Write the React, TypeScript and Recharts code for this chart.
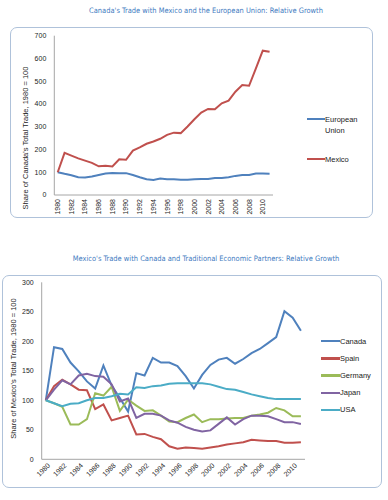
import React from "react"
import { Label, Legend, Line, LineChart, XAxis, YAxis } from "recharts"

const YEARS = [
  "1980", "1981", "1982", "1983", "1984", "1985", "1986", "1987",
  "1988", "1989", "1990", "1991", "1992", "1993", "1994", "1995",
  "1996", "1997", "1998", "1999", "2000", "2001", "2002", "2003",
  "2004", "2005", "2006", "2007", "2008", "2009", "2010", "2011",
]

// Canada's trade share, 1980 = 100
const EU_SHARE = [100, 93, 87, 78, 77, 81, 88, 94, 97, 96, 96, 88, 78, 69, 66, 72, 69, 69, 67, 67, 69, 70, 70, 75, 75, 78, 84, 88, 88, 94, 94, 93]
const MEXICO_SHARE = [100, 185, 173, 161, 151, 141, 126, 129, 125, 157, 155, 195, 209, 225, 235, 247, 264, 274, 272, 301, 333, 362, 378, 377, 403, 415, 454, 483, 480, 556, 634, 629]
const CANADA_TICKS = [0, 100, 200, 300, 400, 500, 600, 700]
const CANADA_SERIES = ["European Union", "Mexico"]

// Mexico's trade share, 1980 = 100
const CANADA_SHARE = [100, 190, 187, 164, 149, 132, 120, 159, 125, 104, 81, 146, 142, 172, 164, 164, 158, 141, 120, 143, 160, 169, 172, 162, 170, 180, 187, 197, 207, 251, 240, 218]
const SPAIN_SHARE = [100, 124, 135, 127, 118, 117, 85, 93, 66, 70, 74, 42, 43, 38, 34, 22, 18, 20, 19, 18, 20, 22, 25, 27, 29, 33, 32, 31, 31, 28, 28, 29]
const GERMANY_SHARE = [100, 95, 89, 59, 59, 68, 112, 108, 123, 82, 101, 91, 82, 83, 74, 64, 63, 70, 76, 63, 68, 68, 69, 70, 70, 74, 76, 79, 87, 83, 73, 73]
const JAPAN_SHARE = [100, 118, 134, 127, 142, 145, 141, 140, 127, 98, 103, 70, 77, 77, 74, 66, 62, 55, 50, 47, 49, 60, 71, 59, 68, 74, 74, 73, 68, 63, 63, 60]
const USA_SHARE = [100, 95, 90, 94, 95, 100, 104, 104, 107, 111, 110, 122, 121, 124, 125, 128, 129, 129, 129, 129, 127, 123, 119, 118, 114, 110, 107, 104, 102, 102, 102, 102]
const MEXICO_TICKS = [0, 50, 100, 150, 200, 250, 300]
const MEXICO_SERIES = ["Canada", "Spain", "Germany", "Japan", "USA"]

const canadaRows = YEARS.map((year, i) => ({ year, eu: EU_SHARE[i], mexico: MEXICO_SHARE[i] }))
const mexicoRows = YEARS.map((year, i) => ({
  year,
  canada: CANADA_SHARE[i],
  spain: SPAIN_SHARE[i],
  germany: GERMANY_SHARE[i],
  japan: JAPAN_SHARE[i],
  usa: USA_SHARE[i],
}))

const BLUE = "#4F81BD"
const RED = "#C0504D"
const GREEN = "#9BBB59"
const PURPLE = "#8064A2"
const CYAN = "#4BACC6"

const FONT = "'Liberation Sans', Arial, sans-serif"
const NARROW = "'Liberation Sans Narrow', 'DejaVu Sans Condensed', sans-serif"
const AXIS_LINE = { stroke: "#A6A6A6", strokeWidth: 1 }
const TICK_FONT = { fontSize: 7, fill: "#262626", fontFamily: FONT }

const titleStyle: React.CSSProperties = {
  position: "absolute",
  left: 0,
  width: 412,
  textAlign: "center",
  fontFamily: NARROW,
  fontSize: 7.45,
  color: "#3F7CBF",
  whiteSpace: "nowrap",
}

const boxStyle: React.CSSProperties = {
  position: "absolute",
  border: "1px solid #AFC2DA",
  borderRadius: 7,
  boxSizing: "border-box",
}

function yTitle(text: string, cx: number, cy: number) {
  return () => (
    <text
      x={cx}
      y={cy}
      transform={`rotate(-90, ${cx}, ${cy})`}
      textAnchor="middle"
      dominantBaseline="central"
      fontSize={7.5}
      fill="#262626"
      fontFamily={FONT}
    >
      {text}
    </text>
  )
}

function VerticalYearTick({ x, y, payload }: any) {
  const ax = x
  const ay = y + 4
  return (
    <text x={ax} y={ay} transform={`rotate(-90, ${ax}, ${ay})`} textAnchor="end" dy="0.35em" {...TICK_FONT}>
      {payload.value}
    </text>
  )
}

function SlantYearTick({ x, y, payload }: any) {
  const ax = x + 3
  const ay = y + 5
  return (
    <text x={ax} y={ay} transform={`rotate(-45, ${ax}, ${ay})`} textAnchor="end" dy="0.35em" {...TICK_FONT}>
      {payload.value}
    </text>
  )
}

function SideLegend({ payload, order, rowHeight, lineWidth, textWidth }: any) {
  // keep the series order instead of the alphabetical one
  const items = [...(payload || [])].sort((a: any, b: any) => order.indexOf(a.value) - order.indexOf(b.value))
  return (
    <div>
      {items.map((item: any) => (
        <div key={item.value} style={{ display: "flex", alignItems: "flex-start", height: rowHeight }}>
          <span
            style={{ display: "inline-block", width: lineWidth, height: 2.5, marginTop: 4.25, background: item.color, flexShrink: 0 }}
          />
          <span style={{ width: textWidth, fontSize: 7.5, lineHeight: "11px", fontFamily: FONT, color: "#1a1a1a" }}>
            {item.value}
          </span>
        </div>
      ))}
    </div>
  )
}

export default function App() {
  return (
    <div style={{ position: "absolute", left: 0, top: 0, width: 388, height: 500, background: "#fff", overflow: "hidden" }}>
      <div style={{ ...titleStyle, top: 6 }}>Canada's Trade with Mexico and the European Union: Relative Growth</div>
      <div style={{ ...boxStyle, left: 10, top: 27, width: 363, height: 191 }} />

      <div style={{ ...titleStyle, top: 254 }}>Mexico's Trade with Canada and Traditional Economic Partners: Relative Growth</div>
      <div style={{ ...boxStyle, left: 2, top: 275, width: 380, height: 213 }} />

      <div style={{ position: "absolute", left: 0, top: 0 }}>
        <LineChart width={388} height={230} data={canadaRows} margin={{ top: 35.7, right: 115, bottom: 10, left: 10 }}>
          <XAxis
            dataKey="year"
            axisLine={AXIS_LINE}
            tickLine={false}
            tickSize={0}
            tickMargin={0}
            interval={1}
            height={25}
            padding={{ left: 3.42, right: 3.42 }}
            tick={<VerticalYearTick />}
          />
          <YAxis
            type="number"
            domain={[0, 700]}
            ticks={CANADA_TICKS}
            axisLine={AXIS_LINE}
            tickLine={false}
            tickSize={0}
            tickMargin={8}
            width={44.3}
            tick={TICK_FONT}
          >
            <Label content={yTitle("Share of Canada's Total Trade, 1980 = 100", 25, 138)} />
          </YAxis>
          <Legend
            layout="vertical"
            align="center"
            verticalAlign="middle"
            wrapperStyle={{ left: 307, top: 113.5, width: 75 }}
            content={(props: any) => (
              <SideLegend {...props} order={CANADA_SERIES} rowHeight={40} lineWidth={18} textWidth={45} />
            )}
          />
          <Line name="European Union" dataKey="eu" stroke={BLUE} strokeWidth={2} dot={false} isAnimationActive={false} />
          <Line name="Mexico" dataKey="mexico" stroke={RED} strokeWidth={2} dot={false} isAnimationActive={false} />
        </LineChart>
      </div>

      <div style={{ position: "absolute", left: 0, top: 260 }}>
        <LineChart width={388} height={240} data={mexicoRows} margin={{ top: 22.3, right: 83, bottom: 10.7, left: 0 }}>
          <XAxis
            dataKey="year"
            axisLine={AXIS_LINE}
            tickLine={false}
            tickSize={0}
            tickMargin={0}
            interval={1}
            height={30}
            padding={{ left: 4.1, right: 4.1 }}
            tick={<SlantYearTick />}
          />
          <YAxis
            type="number"
            domain={[0, 300]}
            ticks={MEXICO_TICKS}
            axisLine={AXIS_LINE}
            tickLine={false}
            tickSize={0}
            tickMargin={8}
            width={41.7}
            tick={TICK_FONT}
          >
            <Label content={yTitle("Share of Mexico's Total Trade, 1980 = 100", 13, 108.5)} />
          </YAxis>
          <Legend
            layout="vertical"
            align="center"
            verticalAlign="middle"
            wrapperStyle={{ left: 321, top: 75.7, width: 65 }}
            content={(props: any) => (
              <SideLegend {...props} order={MEXICO_SERIES} rowHeight={17.2} lineWidth={19} textWidth={45} />
            )}
          />
          <Line name="Canada" dataKey="canada" stroke={BLUE} strokeWidth={2} dot={false} isAnimationActive={false} />
          <Line name="Spain" dataKey="spain" stroke={RED} strokeWidth={2} dot={false} isAnimationActive={false} />
          <Line name="Germany" dataKey="germany" stroke={GREEN} strokeWidth={2} dot={false} isAnimationActive={false} />
          <Line name="Japan" dataKey="japan" stroke={PURPLE} strokeWidth={2} dot={false} isAnimationActive={false} />
          <Line name="USA" dataKey="usa" stroke={CYAN} strokeWidth={2} dot={false} isAnimationActive={false} />
        </LineChart>
      </div>
    </div>
  )
}
